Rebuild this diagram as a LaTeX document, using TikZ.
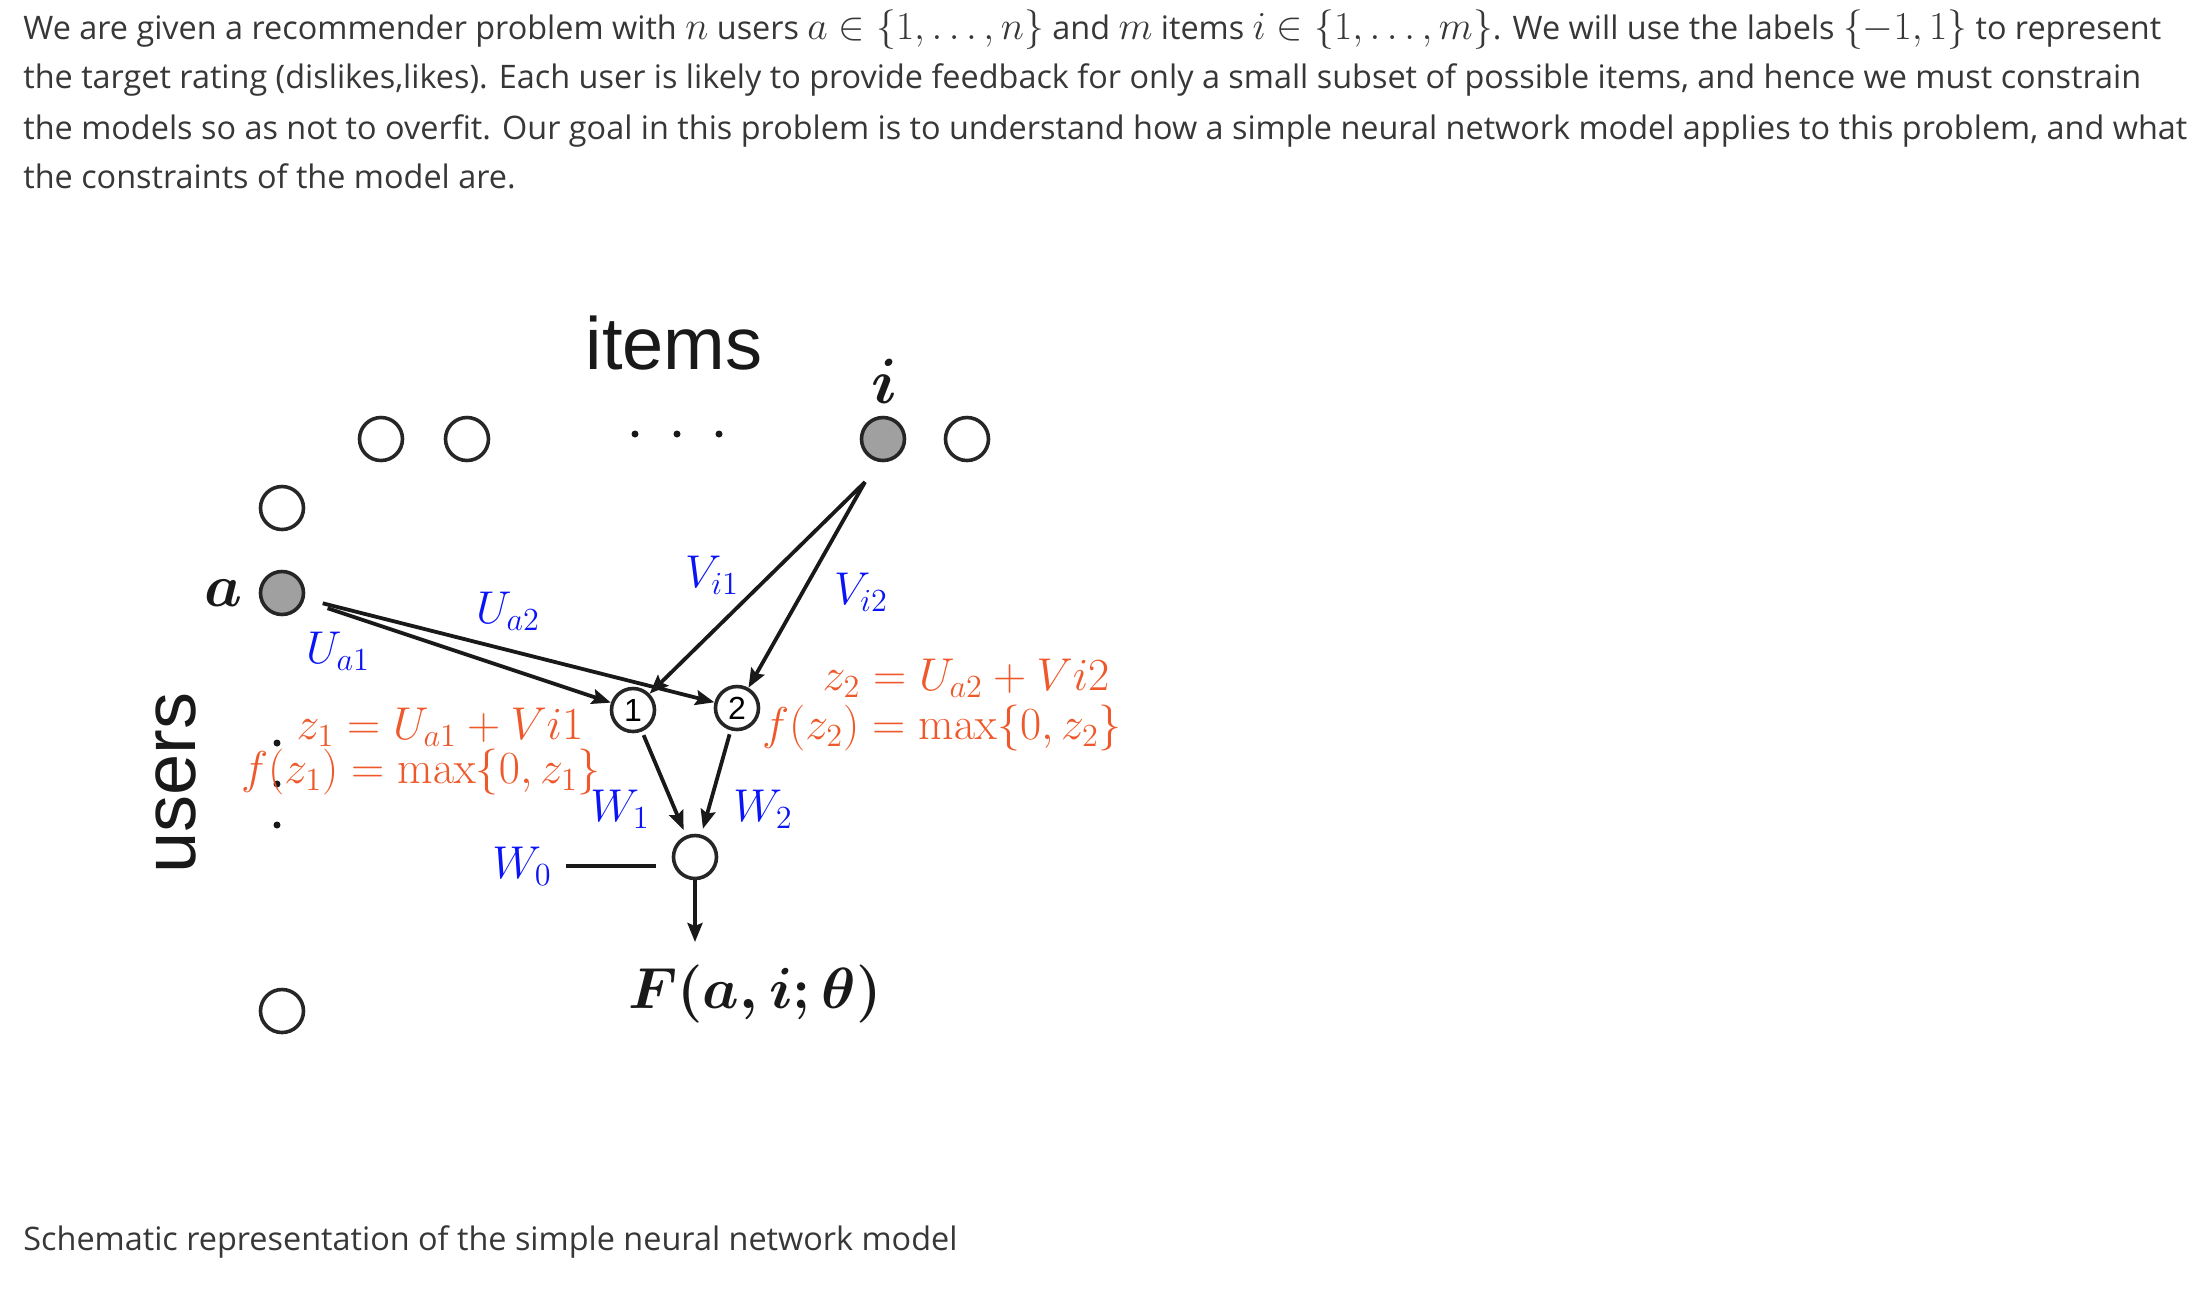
\RequirePackage{fix-cm}
\documentclass[tikz,border=0pt]{standalone}
\usepackage[no-math]{fontspec}
\setmainfont{Open Sans}
\newfontfamily\helv{Liberation Sans}
\usetikzlibrary{arrows.meta}
\definecolor{txtgray}{RGB}{55,55,55}
\definecolor{lblue}{RGB}{10,20,245}
\definecolor{lorange}{RGB}{238,88,42}
\definecolor{cgray}{RGB}{160,160,160}
\newcommand{\km}[1]{{\fontsize{19.8}{19.8}\selectfont$#1$}}
\begin{document}
\begin{tikzpicture}[x=0.5pt,y=-0.5pt,
  para/.style={anchor=base west,inner sep=0pt,text=txtgray,font=\fontsize{16.2}{19}\selectfont},
  unit/.style={circle,draw=black!85,line width=1.8pt,minimum size=21.5pt,inner sep=0pt},
  filledunit/.style={unit,fill=cgray},
  arr/.style={draw=black!90,line width=1.9pt,-{Stealth[length=9.5pt,width=7.5pt,inset=1.5pt]}},
  bl/.style={text=lblue,inner sep=0pt,font=\fontsize{23}{23}\selectfont},
  orl/.style={text=lorange,inner sep=0pt,font=\fontsize{23}{23}\selectfont},
  dotn/.style={circle,fill=black!90,inner sep=0pt,minimum size=3.5pt},
  bigmath/.style={text=black!90,inner sep=0pt,font=\fontsize{30}{30}\selectfont\boldmath},
  bigsans/.style={text=black!90,inner sep=0pt,font=\helv\fontsize{37}{37}\selectfont}]
\useasboundingbox (0,0) rectangle (2208,1298);
% paragraph
\node[para] (p1) at (23,39) {We are given a recommender problem with \km{n} users \km{a\in\{1,\dots,n\}} and \km{m} items \km{i\in\{1,\dots,m\}}. We will use the labels \km{\{-1,1\}} to represent};
\node[para] (p2) at (23,88) {the target rating (dislikes,likes). Each user is likely to provide feedback for only a small subset of possible items, and hence we must constrain};
\node[para] (p3) at (23,139) {the models so as not to overfit. Our goal in this problem is to understand how a simple neural network model applies to this problem, and what};
\node[para] (p4) at (23,188) {the constraints of the model are.};
\node[para] (cap) at (23,1250) {Schematic representation of the simple neural network model};
% titles
\node[bigsans] (items) at (674,343) {items};
\node[bigsans,rotate=90] (users) at (176,783) {users};
\node[bigmath,font=\fontsize{32}{32}\selectfont\boldmath] (ilab) at (884,381) {$i$};
\node[bigmath] (alab) at (223,593) {$a$};
% item units
\node[unit] (c1) at (381,439) {};
\node[unit] (c2) at (467,439) {};
\node[dotn] (e1) at (635,434) {};
\node[dotn] (e2) at (677,434) {};
\node[dotn] (e3) at (719,434) {};
\node[filledunit] (ci) at (883,439) {};
\node[unit] (c4) at (967,439) {};
% user units
\node[unit] (u1) at (282,508) {};
\node[filledunit] (ua) at (282,593) {};
\node[dotn] (v1) at (277,743) {};
\node[dotn] (v2) at (277,784) {};
\node[dotn] (v3) at (277,825) {};
\node[unit] (un) at (282,1011) {};
% hidden and output units
\node[unit,font=\helv\fontsize{16}{16}\selectfont] (h1) at (633,710) {1};
\node[unit,font=\helv\fontsize{16}{16}\selectfont] (h2) at (737,708) {2};
\node[unit] (out) at (695,857) {};
\node[bigmath,font=\fontsize{29}{29}\selectfont\boldmath] (F) at (755,994) {$F(a,i;\theta)$};
\coordinate (is) at (865,482);
\coordinate (Ftop) at (695,942);
% labels
\node[bl] (Vi1) at (712,575) {$V_{i1}$};
\node[bl] (Vi2) at (861,592) {$V_{i2}$};
\node[bl] (Ua2) at (508,611) {$U_{a2}$};
\node[bl] (Ua1) at (338,651) {$U_{a1}$};
\node[bl] (W1) at (620,809) {$W_1$};
\node[bl] (W2) at (763,809) {$W_2$};
\node[bl] (W0) at (522,866) {$W_0$};
\node[orl] (z1) at (440,727) {$z_1 = U_{a1} + V i 1$};
\node[orl] (f1) at (421,772) {$f(z_1) = \max\{0, z_1\}$};
\node[orl] (z2) at (966,678) {$z_2 = U_{a2} + V i 2$};
\node[orl] (f2) at (942,728) {$f(z_2) = \max\{0, z_2\}$};
% connectors
\draw[arr, shorten <=24pt] (ua.center) -- (h1);
\draw[arr, shorten <=21pt] (ua.center) -- (h2);
\draw[arr] (is) -- (h1);
\draw[arr] (is) -- (h2);
\draw[arr, shorten <=2pt, shorten >=3pt] (h1) -- (out);
\draw[arr, shorten <=2pt, shorten >=3pt] (h2) -- (out);
\draw[arr] (out) -- (Ftop);
\draw[draw=black!90,line width=1.9pt, shorten <=7pt, shorten >=8pt] (W0.east) -- (W0.east -| out.west);
\end{tikzpicture}
\end{document}
